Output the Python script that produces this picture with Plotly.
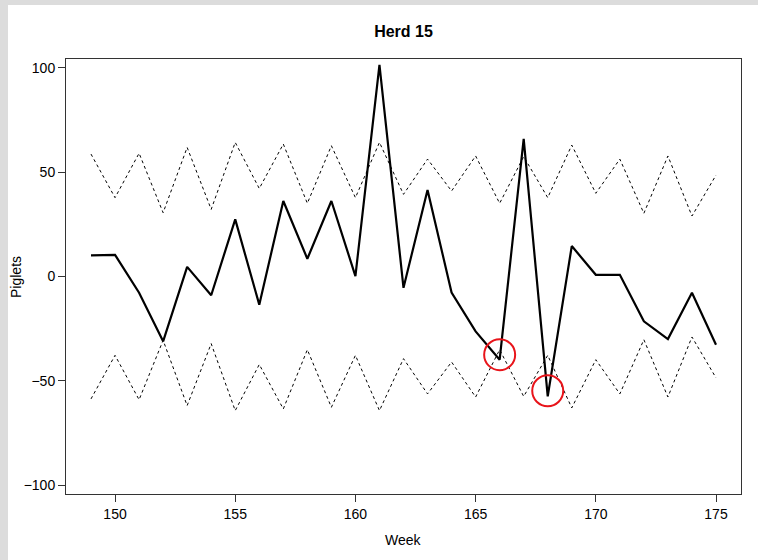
import plotly.graph_objects as go

weeks = list(range(149, 176))
piglets = [10.1, 10.4, -7.8, -31.1, 4.6, -9.0, 27.4, -13.5, 36.2, 8.5, 36.2, 0.2, 101.5,
           -5.4, 41.5, -7.7, -26.3, -39.9, 66.0, -57.5, 14.6, 0.8, 0.8, -21.5, -30.0, -7.8, -32.7]
upper = [58.7, 37.8, 59.1, 30.6, 61.9, 32.2, 64.3, 42.2, 63.5, 35.1, 62.7, 37.8, 64.3,
         39.4, 56.3, 41.0, 57.8, 35.1, 57.5, 37.8, 63.0, 39.9, 56.3, 30.3, 57.8, 29.0, 48.6]
lower = [-58.7, -37.8, -59.1, -30.6, -61.9, -32.2, -64.3, -42.2, -63.5, -35.1, -62.7, -37.8, -64.3,
         -39.4, -56.3, -41.0, -57.8, -35.1, -57.5, -37.8, -63.0, -39.9, -56.3, -30.3, -57.8, -29.0, -48.6]
flag_weeks = [166, 168]
flag_values = [-37.5, -54.8]
x_ticks = [150, 155, 160, 165, 170, 175]
y_ticks = [-100, -50, 0, 50, 100]

FONT = "Liberation Sans, Arial, sans-serif"
fig = go.Figure()
for band in (upper, lower):
    fig.add_trace(go.Scatter(x=weeks, y=band, mode="lines",
                             line=dict(color="black", width=1, dash="3px,3px"),
                             showlegend=False, hoverinfo="skip"))
fig.add_trace(go.Scatter(x=weeks, y=piglets, mode="lines",
                         line=dict(color="black", width=2.2), showlegend=False))
fig.add_trace(go.Scatter(x=flag_weeks, y=flag_values, mode="markers",
                         marker=dict(symbol="circle-open", size=31, color="#e8141a",
                                     line=dict(width=2, color="#e8141a")),
                         showlegend=False))

L, R, T, B = 66, 17, 59, 66
W, H = 758, 560
pw, ph = W - L - R, H - T - B
px = lambda p: (p - L) / pw
py = lambda p: (H - B - p) / ph

fig.update_layout(
    width=W, height=H,
    margin=dict(l=L, r=R, t=T, b=B),
    paper_bgcolor="white", plot_bgcolor="white",
    font=dict(family=FONT, size=14, color="black"),
    title=dict(text="<b>Herd 15</b>", x=0.5 * (L + W - R) / W, xanchor="center",
               y=1 - 31 / H, yanchor="middle", font=dict(size=16, family=FONT)),
    xaxis=dict(range=[147.96, 176.04], tickvals=x_ticks, ticks="outside", ticklen=7,
               tickcolor="#333", showline=True, linecolor="#333", linewidth=1, mirror=True,
               showgrid=False, zeroline=False, tickfont=dict(size=14)),
    yaxis=dict(range=[-104.3, 104.3], tickvals=y_ticks, ticks="outside", ticklen=7,
               tickcolor="#333", showline=True, linecolor="#333", linewidth=1, mirror=True,
               showgrid=False, zeroline=False, tickfont=dict(size=14)),
    shapes=[
        dict(type="rect", xref="paper", yref="paper", x0=px(0), x1=px(8), y0=py(H), y1=py(0),
             fillcolor="#dcdcdc", line=dict(width=0), layer="above"),
        dict(type="rect", xref="paper", yref="paper", x0=px(0), x1=px(W), y0=py(5), y1=py(0),
             fillcolor="#dcdcdc", line=dict(width=0), layer="above"),
    ],
    annotations=[
        dict(text="Week", xref="paper", yref="paper", x=0.5, y=py(540), showarrow=False,
             xanchor="center", yanchor="middle", font=dict(size=14)),
        dict(text="Piglets", xref="paper", yref="paper", x=px(16), y=py(277), showarrow=False,
             xanchor="center", yanchor="middle", textangle=-90, font=dict(size=14)),
    ],
)
fig.write_html("out.html", config={"displayModeBar": False},
               post_script="document.body.style.margin='0';document.body.style.overflow='hidden';")
